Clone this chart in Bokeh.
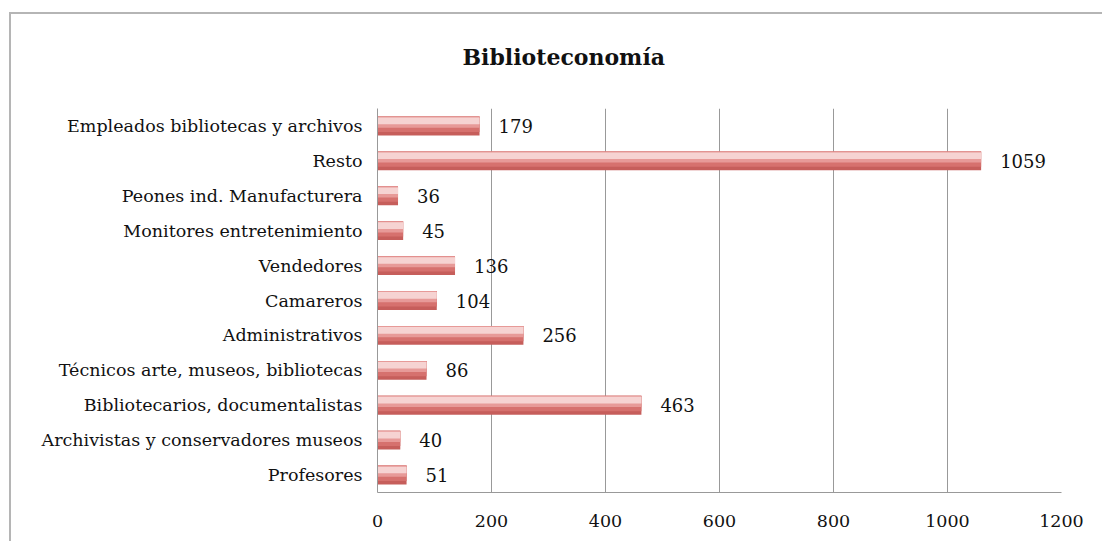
from bokeh.plotting import figure
from bokeh.models import ColumnDataSource, FixedTicker, Title
from bokeh.transform import dodge
from bokeh.embed import file_html
from bokeh.resources import INLINE

categories = ["Profesores", "Archivistas y conservadores museos", "Bibliotecarios, documentalistas",
              "Técnicos arte, museos, bibliotecas", "Administrativos", "Camareros", "Vendedores",
              "Monitores entretenimiento", "Peones ind. Manufacturera", "Resto",
              "Empleados bibliotecas y archivos"]
values = [51, 40, 463, 86, 256, 104, 136, 45, 36, 1059, 179]
x_ticks = [0, 200, 400, 600, 800, 1000, 1200]
title_text = "Biblioteconomía"

FONT = "DejaVu Serif"

W, H = 1093, 529
p = figure(width=W, height=H, y_range=categories, x_range=(0, 1200),
           output_backend="svg", toolbar_location=None, title=None,
           min_border_left=366, min_border_right=43, min_border_top=94, min_border_bottom=51)
p.styles = {"margin-left": "9px", "margin-top": "12px",
            "border-left": "2px solid #b5b5b5", "border-top": "2px solid #b5b5b5"}

# spacer between title and plot area
p.add_layout(Title(text=" ", text_font_size="8px", standoff=0), "above")
p.add_layout(Title(text=title_text, align="left", offset=85, standoff=55, text_font=FONT,
                   text_font_style="bold", text_font_size="22px", text_color="#111111"), "above")

src = ColumnDataSource(dict(cat=categories, val=values, lab=[str(v) for v in values]))

# layered bars to mimic the cylinder gradient
layers = [(-0.27, 0.27, "#c65e5b"), (-0.17, 0.27, "#d6716e"),
          (-0.05, 0.27, "#e79a98"), (0.05, 0.24, "#f6d3d2")]
for lo, hi, col in layers:
    p.hbar(y=dodge("cat", (lo + hi) / 2, range=p.y_range), right="val", left=0, height=hi - lo,
           source=src, fill_color=col, line_color=None)

p.text(x="val", y="cat", text="lab", source=src, x_offset=19, text_baseline="middle",
       text_font={"value": FONT}, text_font_size="18px", text_color="#111111")

p.xaxis.ticker = FixedTicker(ticks=x_ticks)
p.xgrid.ticker = FixedTicker(ticks=x_ticks[1:])
p.xgrid.grid_line_color = "#999999"
p.xgrid.grid_line_width = 1
p.ygrid.grid_line_color = None
p.outline_line_color = None

for ax in (p.xaxis, p.yaxis):
    ax.axis_line_color = "#999999"
    ax.major_tick_line_color = None
    ax.minor_tick_line_color = None
    ax.major_label_text_font = FONT
    ax.major_label_text_font_size = "17.5px"
    ax.major_label_text_color = "#111111"
p.xaxis.major_label_standoff = 16
p.yaxis.major_label_standoff = 9

open("out.html", "w").write(file_html(p, INLINE))
